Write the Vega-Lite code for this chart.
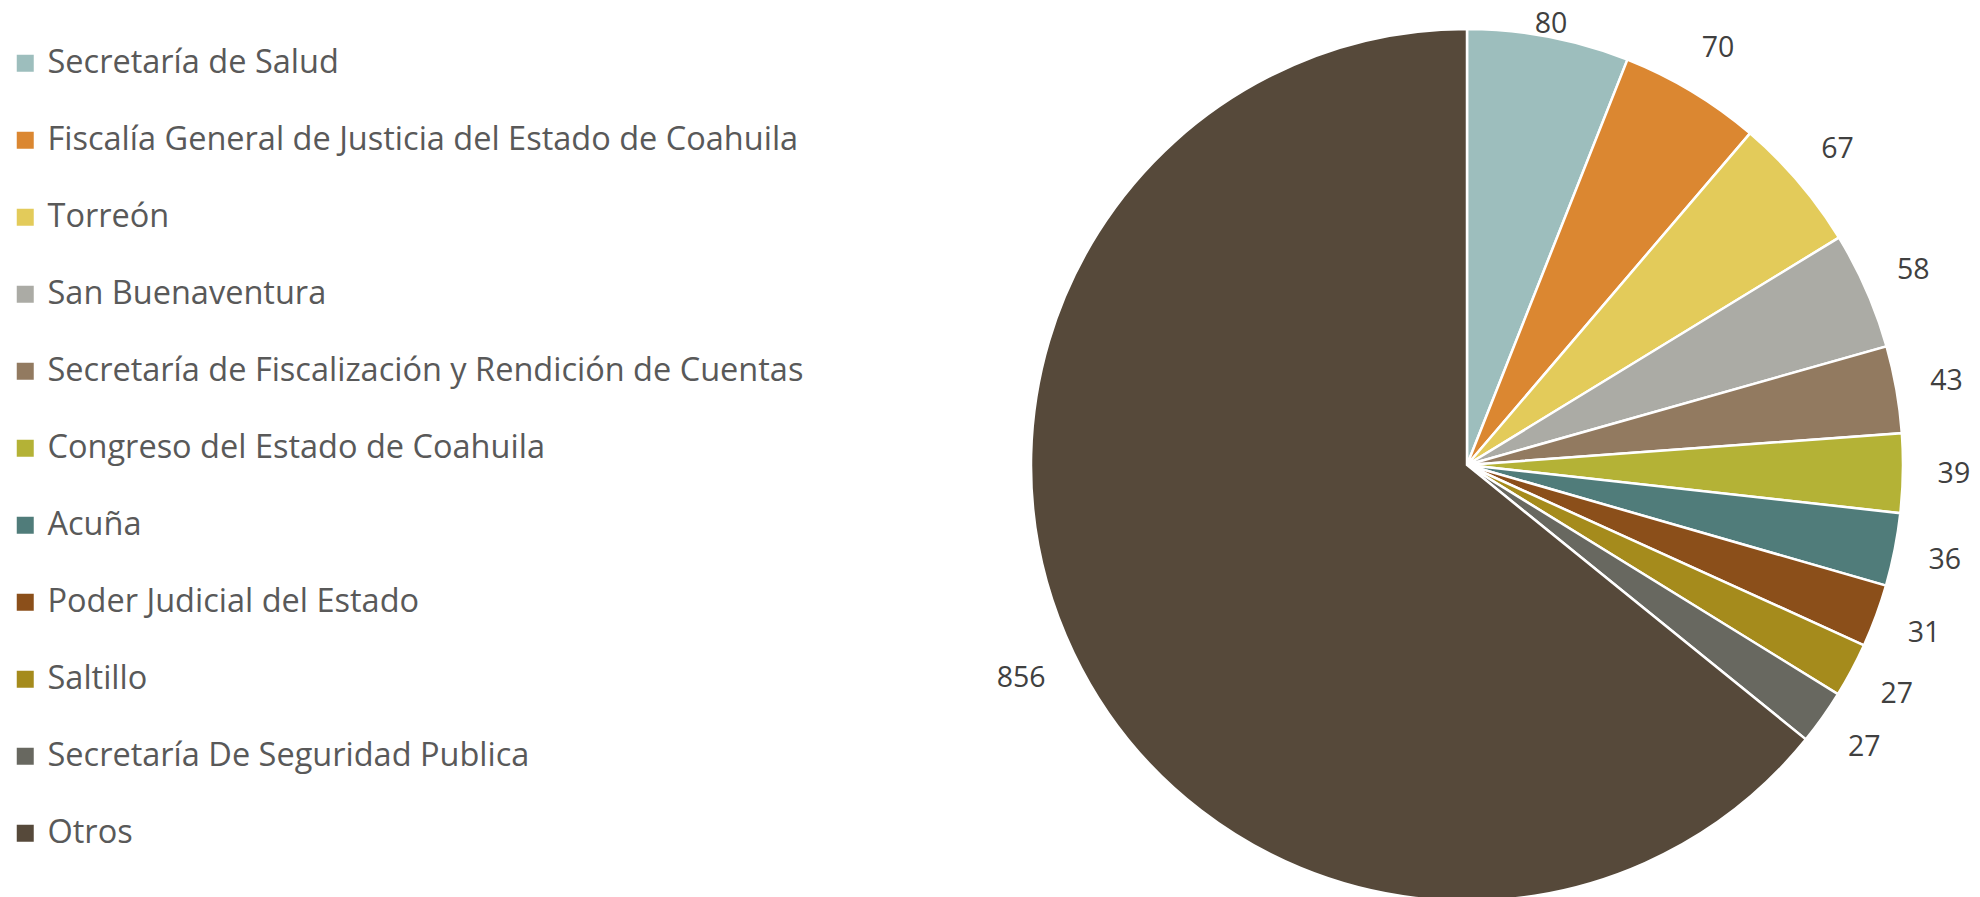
{
  "$schema": "https://vega.github.io/schema/vega-lite/v6.json",
  "width": 1026,
  "height": 896,
  "autosize": "none",
  "padding": {"left": 954, "top": 17, "right": 0, "bottom": 0},
  "background": "white",
  "config": {"view": {"stroke": null}},
  "data": {
    "values": [
      {"idx": 1, "name": "Secretaría de Salud", "value": 80},
      {"idx": 2, "name": "Fiscalía General de Justicia del Estado de Coahuila", "value": 70},
      {"idx": 3, "name": "Torreón", "value": 67},
      {"idx": 4, "name": "San Buenaventura", "value": 58},
      {"idx": 5, "name": "Secretaría de Fiscalización y Rendición de Cuentas", "value": 43},
      {"idx": 6, "name": "Congreso del Estado de Coahuila", "value": 39},
      {"idx": 7, "name": "Acuña", "value": 36},
      {"idx": 8, "name": "Poder Judicial del Estado", "value": 31},
      {"idx": 9, "name": "Saltillo", "value": 27},
      {"idx": 10, "name": "Secretaría De Seguridad Publica", "value": 27},
      {"idx": 11, "name": "Otros", "value": 856}
    ]
  },
  "encoding": {
    "theta": {"field": "value", "type": "quantitative", "stack": true},
    "order": {"field": "idx", "type": "quantitative"}
  },
  "layer": [
    {
      "mark": {"type": "arc", "outerRadius": 436, "stroke": "white", "strokeWidth": 2.5},
      "encoding": {
        "color": {
          "field": "name",
          "type": "nominal",
          "sort": null,
          "scale": {
            "domain": ["Secretaría de Salud", "Fiscalía General de Justicia del Estado de Coahuila", "Torreón", "San Buenaventura", "Secretaría de Fiscalización y Rendición de Cuentas", "Congreso del Estado de Coahuila", "Acuña", "Poder Judicial del Estado", "Saltillo", "Secretaría De Seguridad Publica", "Otros"],
            "range": ["#9DBEBD", "#DB8731", "#E3CB5A", "#ABABA5", "#927A60", "#B4B236", "#507C7A", "#8B4F1A", "#A58B1C", "#686860", "#56493A"]
          },
          "legend": {
            "orient": "none",
            "legendX": -945,
            "legendY": 30,
            "title": null,
            "symbolType": "square",
            "symbolSize": 289,
            "symbolStrokeWidth": 0,
            "labelFontSize": 32.5,
            "labelFont": "Open Sans",
            "labelColor": "#595959",
            "labelLimit": 1200,
            "labelOffset": 6,
            "rowPadding": 44
          }
        }
      }
    },
    {
      "mark": {"type": "text", "radius": 449, "fontSize": 28.5, "font": "Open Sans", "color": "#404040", "align": "center", "baseline": "middle"},
      "encoding": {"text": {"condition": {"test": "datum.idx == 1", "field": "value", "type": "quantitative"}, "value": ""}}
    },
    {
      "mark": {"type": "text", "radius": 487, "fontSize": 28.5, "font": "Open Sans", "color": "#404040", "align": "center", "baseline": "middle"},
      "encoding": {"text": {"condition": {"test": "datum.idx > 1 && datum.idx < 11", "field": "value", "type": "quantitative"}, "value": ""}}
    },
    {
      "mark": {"type": "text", "radius": 494, "fontSize": 28.5, "font": "Open Sans", "color": "#404040", "align": "center", "baseline": "middle"},
      "encoding": {"text": {"condition": {"test": "datum.idx == 11", "field": "value", "type": "quantitative"}, "value": ""}}
    }
  ]
}
